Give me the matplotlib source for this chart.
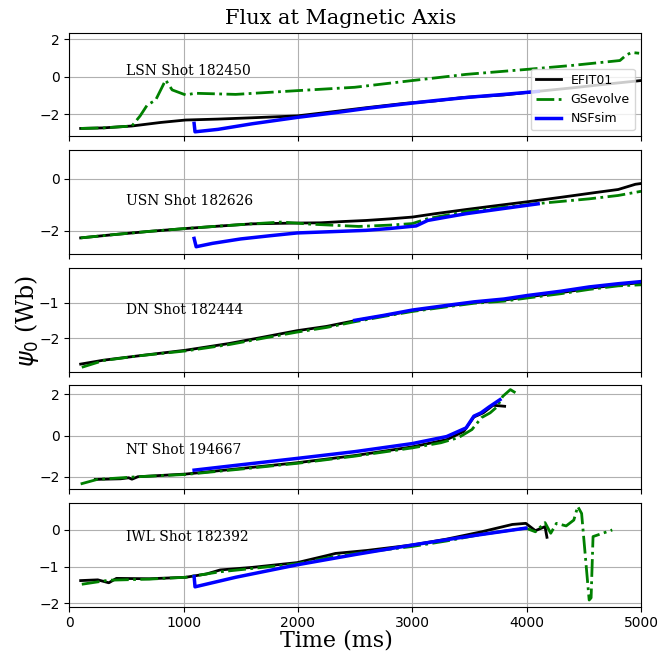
import numpy as np
import matplotlib
matplotlib.use("Agg")
import matplotlib.pyplot as plt

# ---- LSN Shot 182450 ----
lsn_efit_t = [100, 300, 548, 800, 1018, 1300, 1600, 1993, 2300, 2600, 2933, 3200, 3437, 3800, 4076, 4400, 4700, 5000]
lsn_efit_v = [-2.77, -2.74, -2.64, -2.45, -2.32, -2.27, -2.2, -2.1, -1.88, -1.66, -1.43, -1.3, -1.12, -0.98, -0.8, -0.6, -0.4, -0.21]
lsn_gs_t = [100, 300, 548, 620, 682, 732, 760, 800, 843, 900, 1018, 1100, 1455, 1993, 2496, 3000, 3470, 4008, 4400, 4815, 4870, 4916, 4983]
lsn_gs_v = [-2.77, -2.74, -2.64, -2.1, -1.52, -1.34, -1.2, -0.71, -0.18, -0.71, -0.98, -0.89, -0.95, -0.75, -0.57, -0.21, 0.12, 0.39, 0.6, 0.86, 1.15, 1.29, 1.25]
lsn_nsf_t = [1092, 1100, 1300, 1600, 1993, 2300, 2600, 2933, 3200, 3500, 3800, 4100]
lsn_nsf_v = [-2.5, -2.95, -2.82, -2.52, -2.18, -1.95, -1.7, -1.46, -1.28, -1.1, -0.95, -0.79]

# ---- USN Shot 182626 ----
usn_efit_t = [100, 400, 700, 1018, 1300, 1600, 1993, 2200, 2400, 2597, 2800, 3000, 3200, 3470, 3700, 4008, 4300, 4613, 4800, 4950, 5000]
usn_efit_v = [-2.28, -2.15, -2.03, -1.92, -1.83, -1.74, -1.71, -1.7, -1.65, -1.61, -1.55, -1.48, -1.35, -1.19, -1.06, -0.89, -0.72, -0.53, -0.42, -0.22, -0.19]
usn_gs_t = [100, 400, 700, 1018, 1300, 1600, 1858, 2100, 2530, 2800, 3000, 3134, 3470, 3800, 4076, 4546, 4800, 5000]
usn_gs_v = [-2.28, -2.15, -2.03, -1.92, -1.83, -1.74, -1.67, -1.75, -1.84, -1.79, -1.73, -1.54, -1.27, -1.1, -0.97, -0.78, -0.65, -0.49]
usn_nsf_t = [1092, 1110, 1253, 1500, 1750, 1993, 2300, 2597, 2800, 3033, 3134, 3300, 3470, 3800, 4100]
usn_nsf_v = [-2.3, -2.62, -2.49, -2.32, -2.2, -2.09, -2.04, -1.99, -1.92, -1.82, -1.61, -1.48, -1.35, -1.15, -0.97]

# ---- DN Shot 182444 ----
dn_efit_t = [100, 300, 600, 1018, 1400, 1700, 1993, 2250, 2496, 2750, 3000, 3300, 3538, 3800, 4008, 4300, 4546, 4800, 5000]
dn_efit_v = [-2.73, -2.62, -2.5, -2.34, -2.15, -1.97, -1.79, -1.67, -1.51, -1.37, -1.23, -1.1, -1.0, -0.93, -0.84, -0.72, -0.6, -0.5, -0.44]
dn_gs_t = [110, 300, 600, 1018, 1400, 1700, 1993, 2250, 2496, 2750, 3000, 3300, 3538, 3800, 4008, 4300, 4546, 4800, 5000]
dn_gs_v = [-2.82, -2.63, -2.5, -2.36, -2.18, -2.0, -1.83, -1.7, -1.54, -1.39, -1.25, -1.12, -1.02, -0.96, -0.87, -0.75, -0.63, -0.53, -0.5]
dn_nsf_t = [2496, 2750, 3000, 3300, 3538, 3800, 4008, 4300, 4546, 4800, 5000]
dn_nsf_v = [-1.5, -1.36, -1.21, -1.08, -0.98, -0.9, -0.8, -0.68, -0.56, -0.47, -0.41]

# ---- NT Shot 194667 ----
nt_efit_t = [228, 450, 520, 548, 600, 1018, 1500, 1993, 2500, 3000, 3300, 3450, 3538, 3620, 3706, 3807]
nt_efit_v = [-2.13, -2.1, -2.05, -2.12, -2.0, -1.87, -1.6, -1.32, -0.97, -0.55, -0.2, 0.2, 0.9, 1.1, 1.47, 1.42]
nt_gs_t = [100, 245, 600, 1018, 1500, 1993, 2500, 3000, 3250, 3404, 3521, 3605, 3680, 3740, 3790, 3857, 3924]
nt_gs_v = [-2.35, -2.13, -2.0, -1.89, -1.63, -1.35, -1.0, -0.6, -0.35, -0.1, 0.29, 0.87, 1.1, 1.39, 1.9, 2.23, 2.0]
nt_nsf_t = [1092, 1500, 1993, 2500, 3000, 3300, 3470, 3538, 3600, 3672, 3766]
nt_nsf_v = [-1.68, -1.42, -1.11, -0.78, -0.39, -0.05, 0.37, 0.94, 1.1, 1.39, 1.74]

# ---- IWL Shot 182392 ----
iwl_efit_t = [100, 250, 346, 413, 700, 1018, 1200, 1320, 1600, 1993, 2250, 2328, 2600, 3000, 3300, 3605, 3874, 3992, 4076, 4160, 4177]
iwl_efit_v = [-1.38, -1.36, -1.44, -1.32, -1.33, -1.29, -1.2, -1.09, -1.02, -0.89, -0.7, -0.64, -0.56, -0.41, -0.25, -0.05, 0.15, 0.18, -0.02, 0.09, -0.2]
iwl_gs_t = [110, 346, 700, 1018, 1320, 1600, 1993, 2328, 2600, 3000, 3300, 3605, 3992, 4076, 4160, 4210, 4260, 4345, 4412, 4446, 4480, 4546, 4563, 4580, 4748]
iwl_gs_v = [-1.48, -1.37, -1.34, -1.29, -1.14, -1.05, -0.92, -0.72, -0.6, -0.45, -0.3, -0.12, 0.05, -0.05, 0.2, -0.09, 0.18, 0.11, 0.27, 0.64, 0.45, -1.91, -1.85, -0.18, 0.0]
iwl_nsf_t = [1092, 1100, 1455, 1993, 2500, 3000, 3500, 3992]
iwl_nsf_v = [-1.27, -1.55, -1.29, -0.95, -0.67, -0.41, -0.17, 0.05]

shots = [
    ("LSN Shot 182450", lsn_efit_t, lsn_efit_v, lsn_gs_t, lsn_gs_v, lsn_nsf_t, lsn_nsf_v),
    ("USN Shot 182626", usn_efit_t, usn_efit_v, usn_gs_t, usn_gs_v, usn_nsf_t, usn_nsf_v),
    ("DN Shot 182444", dn_efit_t, dn_efit_v, dn_gs_t, dn_gs_v, dn_nsf_t, dn_nsf_v),
    ("NT Shot 194667", nt_efit_t, nt_efit_v, nt_gs_t, nt_gs_v, nt_nsf_t, nt_nsf_v),
    ("IWL Shot 182392", iwl_efit_t, iwl_efit_v, iwl_gs_t, iwl_gs_v, iwl_nsf_t, iwl_nsf_v),
]
ylims = [(-3.2, 2.35), (-2.9, 1.09), (-2.94, -0.02), (-2.6, 2.44), (-2.09, 0.74)]
label_y = [0.08, -1.0, -1.33, -0.9, -0.29]

fig, axes = plt.subplots(5, 1, figsize=(6.72, 6.53), dpi=100, sharex=True)
fig.subplots_adjust(left=0.103, right=0.954, top=0.950, bottom=0.071, hspace=0.132)

for i, ax in enumerate(axes):
    name, et, ev, gt, gv, nt_, nv = shots[i]
    ax.plot(et, ev, color='k', lw=2, label='EFIT01')
    ax.plot(gt, gv, color='green', lw=2, ls='-.', label='GSevolve')
    ax.plot(nt_, nv, color='blue', lw=2.5, label='NSFsim')
    ax.text(500, label_y[i], name, family='serif', fontsize=10)
    ax.set_ylim(*ylims[i])
    ax.set_xlim(0, 5000)
    ax.grid(True)

axes[0].legend(loc='lower right', fontsize=9)
axes[-1].set_xticks([0, 1000, 2000, 3000, 4000, 5000])

fig.text(0.507, 0.972, "Flux at Magnetic Axis", family='serif', fontsize=15, ha='center', va='center')
fig.text(0.5, 0.019, "Time (ms)", family='serif', fontsize=16, ha='center', va='center')
fig.text(0.040, 0.508, r"$\psi_0$ (Wb)", family='serif', fontsize=17, ha='center', va='center', rotation=90)

plt.savefig("out.png")
